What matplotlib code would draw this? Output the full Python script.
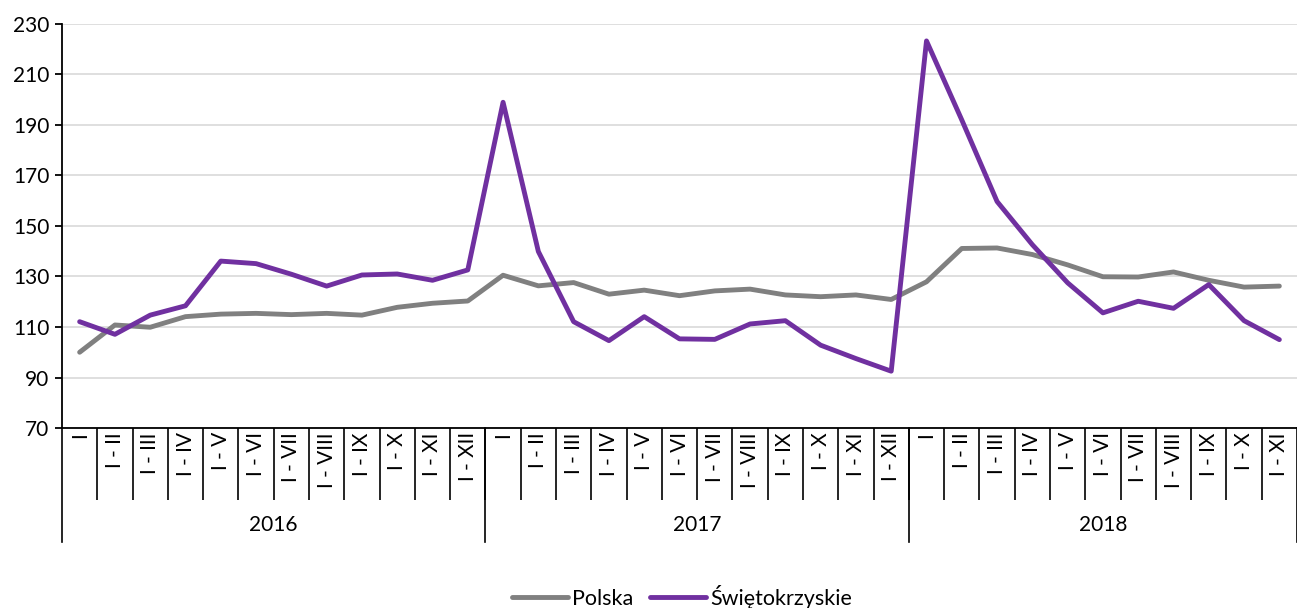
import matplotlib.pyplot as plt
import matplotlib.transforms as mtransforms
from matplotlib.lines import Line2D

plt.rcParams['font.family'] = ['Lato', 'DejaVu Sans']

months = ["I", "I - II", "I - III", "I - IV", "I - V", "I - VI", "I - VII",
          "I - VIII", "I - IX", "I - X", "I - XI", "I - XII"]
years = ["2016", "2017", "2018"]
months_per_year = [12, 12, 11]
labels = months + months + months[:11]

polska = [100, 110.8, 109.9, 114.1, 115.1, 115.4, 114.9, 115.4, 114.7, 117.8, 119.4, 120.3,
          130.5, 126.3, 127.6, 123.0, 124.6, 122.4, 124.3, 125.0, 122.7, 122.0, 122.7, 120.9,
          127.9, 141.1, 141.3, 138.7, 134.6, 129.9, 129.8, 131.8, 128.5, 125.8, 126.2]
swietokrzyskie = [112.1, 107.1, 114.7, 118.4, 136.1, 135.1, 130.9, 126.2, 130.6, 131.0, 128.5, 132.6,
                  199.0, 139.9, 112.1, 104.6, 114.1, 105.3, 105.1, 111.2, 112.5, 102.8, 97.5, 92.5,
                  223.3, 192.0, 159.7, 142.6, 127.5, 115.6, 120.2, 117.4, 126.8, 112.5, 105.0]

W, H = 1297, 608
fig = plt.figure(figsize=(W / 100, H / 100), dpi=100)
ax = fig.add_axes([62 / W, 1 - 428 / H, 1 - 62 / W, (428 - 24) / H])

x = list(range(len(labels)))
ax.plot(x, polska, color='#808080', lw=3.5, solid_capstyle='round', label='Polska', zorder=3)
ax.plot(x, swietokrzyskie, color='#7030A0', lw=3.5, solid_capstyle='round', label='Świętokrzyskie', zorder=3)

ax.set_xlim(-0.5, len(labels) - 0.5)
ax.set_ylim(70, 230)
ax.set_yticks(range(70, 231, 20))
ax.grid(axis='y', color='#d9d9d9', lw=1.2)
ax.set_axisbelow(True)
for s in ['top', 'right']:
    ax.spines[s].set_visible(False)
ax.spines['left'].set_linewidth(1.3)
ax.spines['bottom'].set_linewidth(1.3)
ax.tick_params(axis='y', length=5, width=1.3, labelsize=15, pad=4)

# month labels at centres, separators at category boundaries
ax.set_xticks(x)
ax.set_xticklabels(labels, rotation=90, fontsize=15)
ax.tick_params(axis='x', which='major', length=0, pad=3)
ax.set_xticks([i - 0.5 for i in range(1, len(labels))], minor=True)
ax.tick_params(axis='x', which='minor', length=52, width=1.2, color='black')

# year groups
trans = mtransforms.blended_transform_factory(ax.transData, ax.transAxes)
bottom = -(542 - 428) / (428 - 24)
start = 0
bounds = [-0.5]
for yr, n in zip(years, months_per_year):
    ax.text(start - 0.5 + n / 2, -(525 - 428) / (428 - 24), yr, transform=trans,
            ha='center', va='center', fontsize=15)
    start += n
    bounds.append(start - 0.5)
for b in bounds:
    ax.add_line(Line2D([b, b], [0, bottom], transform=trans, color='black', lw=1.2, clip_on=False))

fig.legend(loc='center', bbox_to_anchor=(682 / W, 1 - 597 / H), ncol=2, frameon=False,
           fontsize=15.5, handlelength=2.6, handletextpad=0.2, columnspacing=0.8)

fig.savefig('out.png', dpi=100)
